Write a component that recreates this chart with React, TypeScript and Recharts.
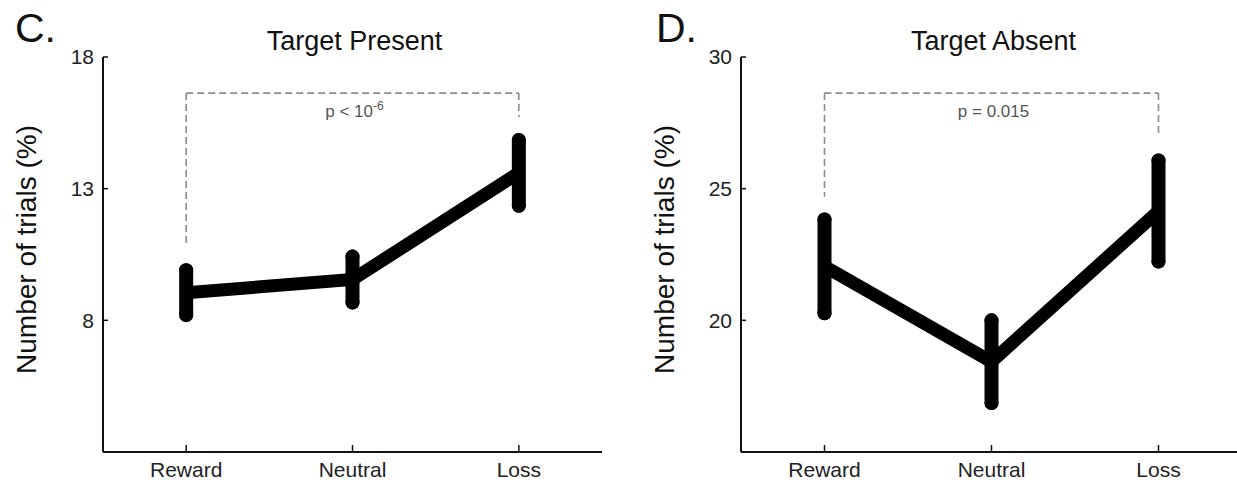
import {
  ComposedChart,
  Line,
  ErrorBar,
  XAxis,
  YAxis,
  ReferenceLine,
} from "recharts";

const categories = ["Reward", "Neutral", "Loss"];

// panel C, target present
const presentMean = [9.05, 9.55, 13.6];
const presentErr = [0.85, 0.87, 1.25];
const presentTicks = [8, 13, 18];
const presentDomain = [3, 18];
// bracket: top, reward end, loss end
const presentBracket = [16.63, 10.8, 15.72];

// panel D, target absent
const absentMean = [22.05, 18.43, 24.15];
const absentErr = [1.78, 1.57, 1.92];
const absentTicks = [20, 25, 30];
const absentDomain = [15, 30];
const absentBracket = [28.63, 24.69, 26.96];

const FONT = "'Liberation Sans', Arial, Helvetica, sans-serif";

interface PanelProps {
  letter: string;
  title: string;
  means: number[];
  errs: number[];
  ticks: number[];
  domain: number[];
  bracket: number[];
  pText: string;
  pSup?: string;
  left: number;
  width: number;
  axisWidth: number;
  marginRight: number;
}

const Panel: React.FC<PanelProps> = ({
  letter,
  title,
  means,
  errs,
  ticks,
  domain,
  bracket,
  pText,
  pSup,
  left,
  width,
  axisWidth,
  marginRight,
}) => {
  const data = categories.map((c, i) => ({ x: i + 1, name: c, mean: means[i], err: errs[i] }));
  const plotCenter = axisWidth + (width - axisWidth - marginRight) / 2;
  const dash = { stroke: "#8c8c8c", strokeWidth: 1.6, strokeDasharray: "7 4" };

  return (
    <div style={{ position: "absolute", left, top: 0, width, height: 483 }}>
      <div
        style={{
          position: "absolute",
          left: letter === "C." ? 15 : 36,
          top: 8,
          fontSize: 41,
          lineHeight: "41px",
          color: "#111",
        }}
      >
        {letter}
      </div>
      <div
        style={{
          position: "absolute",
          left: plotCenter - 150 + 2,
          width: 300,
          textAlign: "center",
          top: 28,
          fontSize: 27,
          lineHeight: "27px",
          color: "#111",
        }}
      >
        {title}
      </div>
      <ComposedChart
        width={width}
        height={483}
        data={data}
        margin={{ top: 57, right: marginRight, bottom: 1, left: 0 }}
        style={{ position: "absolute", left: 0, top: 0 }}
      >
        <XAxis
          dataKey="x"
          type="number"
          domain={[0.5, 3.5]}
          ticks={[1, 2, 3]}
          tickFormatter={(v: number) => categories[v - 1]}
          axisLine={{ stroke: "#111", strokeWidth: 2 }}
          tickLine={{ stroke: "#111", strokeWidth: 1.5 }}
          tickSize={-7}
          tickMargin={17}
          tick={{ fontSize: 21, fill: "#222" }}
          height={30}
        />
        <YAxis
          type="number"
          domain={domain}
          ticks={ticks}
          width={axisWidth}
          axisLine={{ stroke: "#111", strokeWidth: 2 }}
          tickLine={{ stroke: "#111", strokeWidth: 1.5 }}
          tickSize={-5}
          tickMargin={14}
          tick={{ fontSize: 21, fill: "#222" }}
          label={{
            content: (props: any) => {
              const vb = props.viewBox;
              const cx = vb.x + axisWidth - 77;
              const cy = vb.y + vb.height / 2 - 5;
              return (
                <text
                  x={cx}
                  y={cy}
                  transform={`rotate(-90, ${cx}, ${cy})`}
                  textAnchor="middle"
                  dominantBaseline="central"
                  fontSize={28}
                  fill="#111"
                >
                  Number of trials (%)
                </text>
              );
            },
          }}
        />
        <ReferenceLine
          segment={[
            { x: 1, y: bracket[0] },
            { x: 3, y: bracket[0] },
          ]}
          {...dash}
          label={{
            content: (props: any) => {
              const vb = props.viewBox;
              const cx = vb.x + vb.width / 2 + 2;
              return (
                <text x={cx} y={vb.y + 24} textAnchor="middle" fontSize={17} fill="#555">
                  {pText}
                  {pSup && (
                    <tspan dy={-7} fontSize={12}>
                      {pSup}
                    </tspan>
                  )}
                </text>
              );
            },
          }}
        />
        <ReferenceLine
          segment={[
            { x: 1, y: bracket[0] },
            { x: 1, y: bracket[1] },
          ]}
          {...dash}
        />
        <ReferenceLine
          segment={[
            { x: 3, y: bracket[0] },
            { x: 3, y: bracket[2] },
          ]}
          {...dash}
        />
        <Line
          dataKey="mean"
          stroke="#000"
          strokeWidth={13}
          dot={false}
          activeDot={false}
          isAnimationActive={false}
        >
          <ErrorBar
            dataKey="err"
            direction="y"
            width={0}
            stroke="#000"
            strokeWidth={14}
            isAnimationActive={false}
          />
        </Line>
      </ComposedChart>
    </div>
  );
};

export default function App() {
  return (
    <div
      style={{
        position: "absolute",
        left: 0,
        top: 0,
        width: 1237,
        height: 483,
        overflow: "hidden",
        background: "#fff",
        fontFamily: FONT,
      }}
    >
      <style>{`.recharts-errorBar line { stroke-linecap: round; }`}</style>
      <Panel
        letter="C."
        title="Target Present"
        means={presentMean}
        errs={presentErr}
        ticks={presentTicks}
        domain={presentDomain}
        bracket={presentBracket}
        pText="p < 10"
        pSup="-6"
        left={0}
        width={620}
        axisWidth={103}
        marginRight={18}
      />
      <Panel
        letter="D."
        title="Target Absent"
        means={absentMean}
        errs={absentErr}
        ticks={absentTicks}
        domain={absentDomain}
        bracket={absentBracket}
        pText="p = 0.015"
        left={620}
        width={630}
        axisWidth={121}
        marginRight={8}
      />
    </div>
  );
}
